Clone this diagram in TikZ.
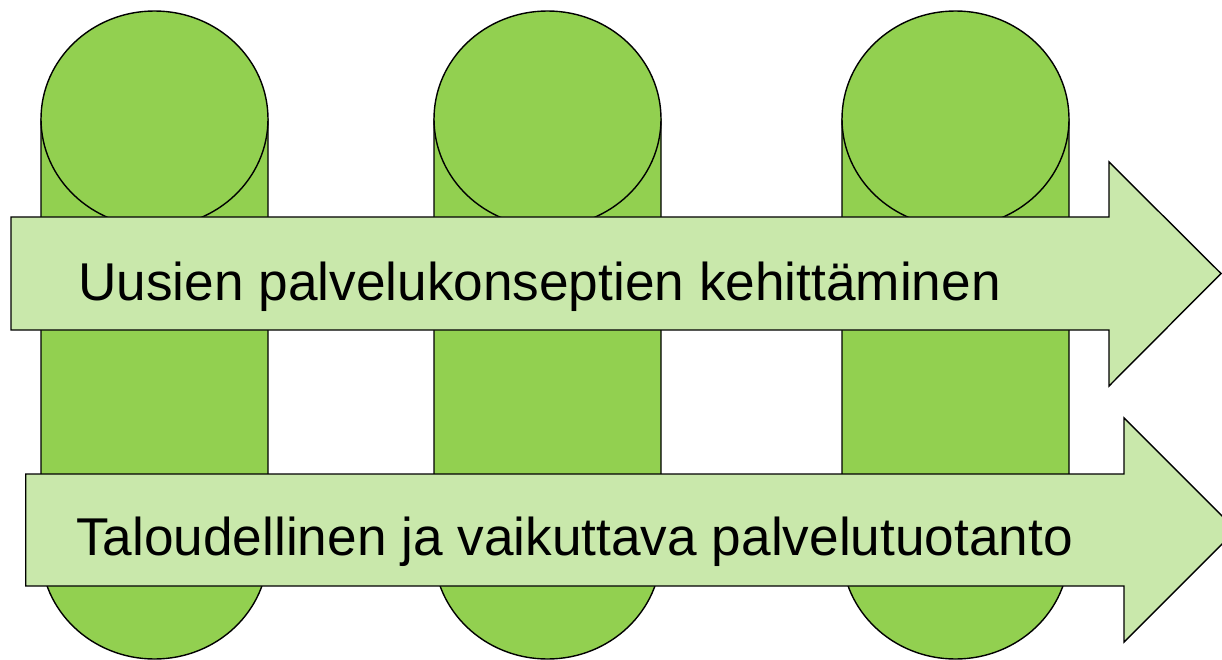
\documentclass[tikz,border=0pt]{standalone}
\usepackage{fontspec}
\setmainfont{Liberation Sans}
\definecolor{cylgreen}{HTML}{92D050}
\definecolor{arrowgreen}{HTML}{C9E8AB}
\tikzset{
  cyl/.style={fill=cylgreen, draw=black, line width=1.4pt},
  bigarrow/.style={fill=arrowgreen, draw=black, line width=1.4pt, line join=miter},
  label/.style={anchor=base west, inner sep=0pt, font=\fontsize{53.2}{60}\selectfont}
}
\begin{document}
\begin{tikzpicture}[x=1pt,y=-1pt]
\clip (0,0) rectangle (1222,660);
\fill[white] (0,0) rectangle (1222,660);
% cylinders
\foreach \cx in {154.5,547.5,955.5}{
  \draw[cyl] (\cx-113.5,119) -- (\cx-113.5,551)
     arc[start angle=180, end angle=360, x radius=113.5, y radius=-108]
     -- (\cx+113.5,119) -- cycle;
  \draw[cyl] (\cx,119) ellipse[x radius=113.5, y radius=108];
}
% arrows
\draw[bigarrow] (11,217) -- (1109,217) -- (1109,162) -- (1221,273.5) -- (1109,386) -- (1109,330) -- (11,330) -- cycle;
\draw[bigarrow] (25.7,474) -- (1124,474) -- (1124,418) -- (1236,530) -- (1124,642) -- (1124,586) -- (25.7,586) -- cycle;
\node[label] (t1) at (78,300) {Uusien palvelukonseptien kehittäminen};
\node[label] (t2) at (76,555) {Taloudellinen ja vaikuttava palvelutuotanto};
\end{tikzpicture}
\end{document}
